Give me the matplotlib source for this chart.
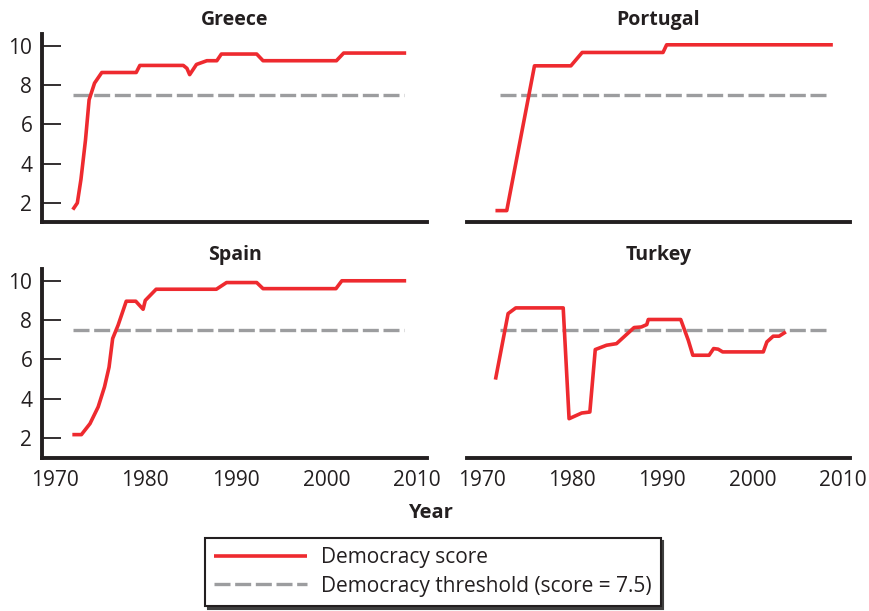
import numpy as np
import matplotlib.pyplot as plt

plt.rcParams['font.family'] = ['Open Sans', 'DejaVu Sans']

# democracy scores
greece_years = [1972.0, 1972.5, 1972.9, 1973.4, 1973.8, 1974.4, 1975.2, 1979.0, 1979.4,
                1984.2, 1984.6, 1984.9, 1985.65, 1986.8, 1987.9, 1988.4, 1992.3, 1993.0,
                2001.1, 2001.9, 2008.8]
greece_score = [1.66, 2.0, 3.2, 5.2, 7.25, 8.1, 8.64, 8.64, 9.0,
                9.0, 8.85, 8.53, 9.05, 9.24, 9.24, 9.58, 9.58, 9.24,
                9.24, 9.63, 9.63]

portugal_years = [1971.55, 1972.8, 1975.87, 1979.9, 1981.15, 1990.1, 1990.5, 2008.9]
portugal_score = [1.61, 1.61, 8.98, 8.98, 9.66, 9.66, 10.05, 10.05]

spain_years = [1971.95, 1972.95, 1973.9, 1974.8, 1975.5, 1976.0, 1976.4, 1977.0, 1977.9,
               1978.95, 1979.76, 1980.0, 1981.2, 1987.85, 1988.97, 1992.3, 1993.0,
               2001.05, 2001.7, 2008.8]
spain_score = [2.17, 2.17, 2.73, 3.58, 4.6, 5.6, 7.06, 7.74, 8.96,
               8.96, 8.55, 9.0, 9.57, 9.57, 9.91, 9.91, 9.6,
               9.6, 10.0, 10.0]

turkey_years = [1971.55, 1972.95, 1973.8, 1979.05, 1979.7, 1981.1, 1982.0, 1982.6, 1983.85,
                1984.95, 1986.9, 1987.7, 1988.3, 1988.47, 1992.06, 1992.9, 1993.4,
                1995.2, 1995.7, 1996.2, 1996.7, 2001.2, 2001.6, 2002.3, 2002.95, 2003.7]
turkey_score = [4.97, 8.33, 8.62, 8.62, 2.98, 3.27, 3.32, 6.5, 6.72,
                6.8, 7.62, 7.65, 7.77, 8.03, 8.03, 6.97, 6.21,
                6.21, 6.55, 6.52, 6.38, 6.38, 6.89, 7.18, 7.18, 7.4]

threshold = 7.5
threshold_span = [1972.0, 2008.6]

red = '#ee2a2f'
grey = '#9c9d9f'
ink = '#231f20'

W, H = 869, 611
fig = plt.figure(figsize=(W/100, H/100), dpi=100)

def px_axes(x0, x1, ytop, ybot):
    return fig.add_axes([x0/W, 1-ybot/H, (x1-x0)/W, (ybot-ytop)/H])

panels = [
    ("Greece", greece_years, greece_score, px_axes(42, 427, 34, 222), (1968.6, 2011.1), (1.03, 10.6), True, False),
    ("Portugal", portugal_years, portugal_score, px_axes(467, 850, 34, 222), (1968.4, 2010.8), (1.03, 10.6), False, False),
    ("Spain", spain_years, spain_score, px_axes(42, 427, 269, 458), (1968.6, 2011.1), (0.98, 10.6), True, True),
    ("Turkey", turkey_years, turkey_score, px_axes(467, 850, 269, 458), (1968.4, 2010.8), (0.98, 10.6), False, True),
]

for name, yrs, sc, ax, xl, yl, left, bottom in panels:
    ax.plot(threshold_span, [threshold, threshold], color=grey, lw=2.4,
            dashes=(4.8, 1.4), dash_capstyle='butt', label='Democracy threshold (score = 7.5)')
    ax.plot(yrs, sc, color=red, lw=2.6, solid_joinstyle='round', solid_capstyle='butt',
            label='Democracy score')
    ax.set_xlim(*xl)
    ax.set_ylim(*yl)
    ax.set_title(name, fontsize=14, fontweight='bold', color=ink, pad=6.5)
    for s in ['top', 'right']:
        ax.spines[s].set_visible(False)
    ax.spines['bottom'].set_linewidth(2.8)
    ax.spines['bottom'].set_color(ink)
    ax.set_xticks([1970, 1980, 1990, 2000, 2010])
    ax.tick_params(axis='x', length=0, pad=9, labelsize=15, labelcolor=ink)
    if not bottom:
        ax.tick_params(axis='x', labelbottom=False)
    if left:
        ax.spines['left'].set_linewidth(2.8)
        ax.spines['left'].set_color(ink)
        ax.set_yticks([2, 4, 6, 8, 10])
        ax.tick_params(axis='y', direction='in', length=13.5, width=1.3, color=ink,
                       pad=7, labelsize=15, labelcolor=ink)
    else:
        ax.spines['left'].set_visible(False)
        ax.set_yticks([])

fig.text(430/W, 1-513/H, 'Year', ha='center', va='center', fontsize=14.5,
         fontweight='bold', color=ink)

h, l = panels[0][3].get_legend_handles_labels()
leg = fig.legend(h[::-1], l[::-1], loc='upper left', bbox_to_anchor=(205/W, 1-538/H),
                 borderaxespad=0, fontsize=15, frameon=True, fancybox=False,
                 shadow={'color': '0.25', 'alpha': 1}, handlelength=4.45,
                 handletextpad=0.65, labelspacing=0.35, borderpad=0.45)
leg.get_frame().set_edgecolor(ink)
leg.get_frame().set_linewidth(1.5)
for t in leg.get_texts():
    t.set_color(ink)

fig.savefig('out.png', dpi=100)
